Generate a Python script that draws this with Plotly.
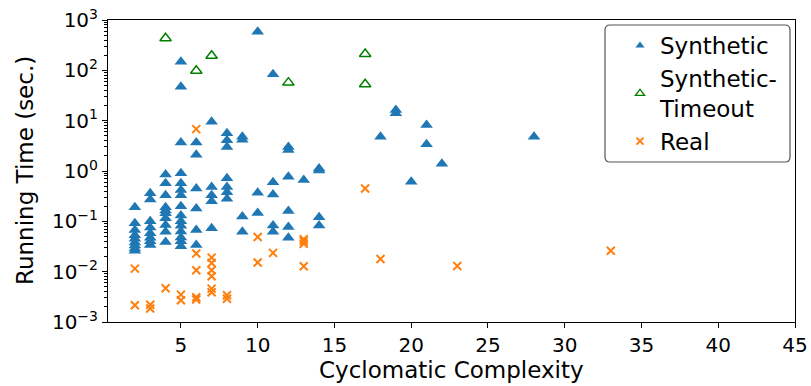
import plotly.graph_objects as go

# ---------------- data ----------------
syn_x = [2]*9 + [3]*8 + [4]*10 + [5]*15 + [6]*6 + [7]*5 + [8]*7 + [9]*4 + [10]*3 + [11]*5 + [12]*6 + [13] + [14]*4 + [18, 19, 19, 20, 21, 21, 22, 28]
syn_y = [0.19, 0.092, 0.067, 0.053, 0.045, 0.038, 0.033, 0.029, 0.026,
         0.36, 0.27, 0.1, 0.075, 0.058, 0.047, 0.04, 0.034,
         0.85, 0.57, 0.33, 0.19, 0.165, 0.145, 0.115, 0.085, 0.062, 0.039,
         148, 47, 3.7, 0.9, 0.57, 0.42, 0.33, 0.2, 0.13, 0.1, 0.082, 0.063, 0.048, 0.04, 0.032,
         3.7, 2.1, 0.45, 0.18, 0.067, 0.034,
         9.5, 0.48, 0.33, 0.25, 0.073,
         5.6, 4.1, 3.0, 0.72, 0.48, 0.38, 0.28,
         4.8, 4.2, 0.125, 0.062,
         586, 0.37, 0.147,
         84, 0.6, 0.34, 0.083, 0.062,
         3.0, 2.6, 0.77, 0.16, 0.077, 0.047,
         0.66,
         1.12, 1.02, 0.12, 0.083,
         4.8, 16.2, 14, 0.61, 8.2, 3.4, 1.4, 4.8]

timeout_x = [4, 6, 7, 12, 17, 17]
timeout_y = [433, 98, 195, 57, 211, 53]

real_x = [2, 2, 3, 3, 4, 5, 5, 6, 6, 6, 6, 6, 7, 7, 7, 7, 7, 7, 8, 8,
          10, 10, 11, 13, 13, 13, 13, 17, 18, 23, 33]
real_y = [0.0115, 0.00215, 0.0022, 0.00185, 0.0047, 0.0035, 0.0027,
          6.8, 0.023, 0.0107, 0.0031, 0.0028,
          0.019, 0.0149, 0.0107, 0.0081, 0.0046, 0.0039,
          0.0034, 0.0029,
          0.049, 0.0152, 0.0236, 0.044, 0.04, 0.036, 0.0128,
          0.45, 0.0179, 0.013, 0.026]

series_names = ["Synthetic", "Synthetic-<br>Timeout", "Real"]

x_ticks = [5, 10, 15, 20, 25, 30, 35, 40, 45]
y_tick_vals = [1e-3, 1e-2, 1e-1, 1e0, 1e1, 1e2, 1e3]
y_tick_text = ["10<sup>\u22123</sup>", "10<sup>\u22122</sup>", "10<sup>\u22121</sup>",
               "10<sup>0</sup>", "10<sup>1</sup>", "10<sup>2</sup>", "10<sup>3</sup>"]

FONT = "DejaVu Sans"
BLUE, GREEN, ORANGE = "#1f77b4", "green", "#ff7f0e"

fig = go.Figure()
fig.add_trace(go.Scatter(
    x=syn_x, y=syn_y, mode="markers", name=series_names[0], showlegend=False,
    marker=dict(symbol="triangle-up", size=11, color=BLUE, line=dict(width=0)),
))
fig.add_trace(go.Scatter(
    x=timeout_x, y=timeout_y, mode="markers", name=series_names[1], showlegend=False,
    marker=dict(symbol="triangle-up-open", size=10, color=GREEN, line=dict(width=1.5, color=GREEN)),
))
fig.add_trace(go.Scatter(
    x=real_x, y=real_y, mode="markers", name=series_names[2], showlegend=False,
    marker=dict(symbol="x-thin-open", size=8, color=ORANGE, line=dict(width=2, color=ORANGE)),
))
# legend entries (smaller symbols, as in the reference legend)
fig.add_trace(go.Scatter(
    x=[None], y=[None], mode="markers", name=series_names[0],
    marker=dict(symbol="triangle-up", size=8, color=BLUE, line=dict(width=0)),
))
fig.add_trace(go.Scatter(
    x=[None], y=[None], mode="markers", name=series_names[1],
    marker=dict(symbol="triangle-up-open", size=8, color=GREEN, line=dict(width=1.3, color=GREEN)),
))
fig.add_trace(go.Scatter(
    x=[None], y=[None], mode="markers", name=series_names[2],
    marker=dict(symbol="x-thin-open", size=7, color=ORANGE, line=dict(width=2, color=ORANGE)),
))

minor_vals = []
for e in range(-3, 3):
    for m in range(2, 10):
        minor_vals.append(m * 10 ** e)

L, R, T, B = 108, 16, 20, 64
W, H = 811, 386
pw, ph = W - L - R, H - T - B

def px2paper_x(px):
    return (px - L) / pw

def px2paper_y(py):
    return (H - B - py) / ph

# rounded legend frame
x0, x1, y0, y1, r = 605, 790, 25, 162, 5
path = (f"M {x0 + r},{y0} L {x1 - r},{y0} Q {x1},{y0} {x1},{y0 + r} "
        f"L {x1},{y1 - r} Q {x1},{y1} {x1 - r},{y1} L {x0 + r},{y1} "
        f"Q {x0},{y1} {x0},{y1 - r} L {x0},{y0 + r} Q {x0},{y0} {x0 + r},{y0} Z")

def conv_path(p):
    out = []
    for t in p.split():
        if "," in t:
            a, b = t.split(",")
            out.append(f"{px2paper_x(float(a)):.5f},{px2paper_y(float(b)):.5f}")
        else:
            out.append(t)
    return " ".join(out)

fig.add_shape(type="path", xref="paper", yref="paper", path=conv_path(path),
              line=dict(color="#555555", width=1.2), fillcolor="rgba(255,255,255,0.8)", layer="above")

# axis titles as annotations for exact placement
fig.add_annotation(text="Cyclomatic Complexity", xref="paper", yref="paper",
                   x=px2paper_x(451.5), y=px2paper_y(370), xanchor="center", yanchor="middle",
                   showarrow=False, font=dict(family=FONT, size=23, color="black"))
fig.add_annotation(text="Running Time (sec.)", xref="paper", yref="paper",
                   x=px2paper_x(25), y=px2paper_y(171), xanchor="center", yanchor="middle",
                   textangle=-90, showarrow=False, font=dict(family=FONT, size=23, color="black"))

fig.update_layout(
    width=W, height=H,
    margin=dict(l=L, r=R, t=T, b=B, autoexpand=False),
    paper_bgcolor="white", plot_bgcolor="white",
    font=dict(family=FONT, color="black", size=20),
    showlegend=True,
    legend=dict(
        x=px2paper_x(620), y=px2paper_y(24), xanchor="left", yanchor="top",
        bgcolor="rgba(0,0,0,0)", borderwidth=0,
        font=dict(family=FONT, size=23, color="black"),
        itemsizing="trace", tracegroupgap=0,
    ),
    xaxis=dict(
        range=[0.25, 45], tickvals=x_ticks, ticks="outside", ticklen=5, tickwidth=1,
        tickcolor="black", showline=True, linecolor="black", linewidth=1, mirror=True,
        showgrid=False, zeroline=False, automargin=False,
        tickfont=dict(size=20),
    ),
    yaxis=dict(
        type="log", range=[-3, 3], tickvals=y_tick_vals, ticktext=y_tick_text,
        ticks="outside", ticklen=5, tickwidth=1, tickcolor="black",
        showline=True, linecolor="black", linewidth=1, mirror=True,
        showgrid=False, zeroline=False, automargin=False,
        tickfont=dict(size=20),
        minor=dict(tickmode="array", tickvals=minor_vals, ticks="outside", ticklen=3,
                   tickcolor="black", showgrid=False),
    ),
)

fig.write_html("out.html", config={"displayModeBar": False},
               post_script="document.body.style.margin='0';document.body.style.overflow='hidden';")
